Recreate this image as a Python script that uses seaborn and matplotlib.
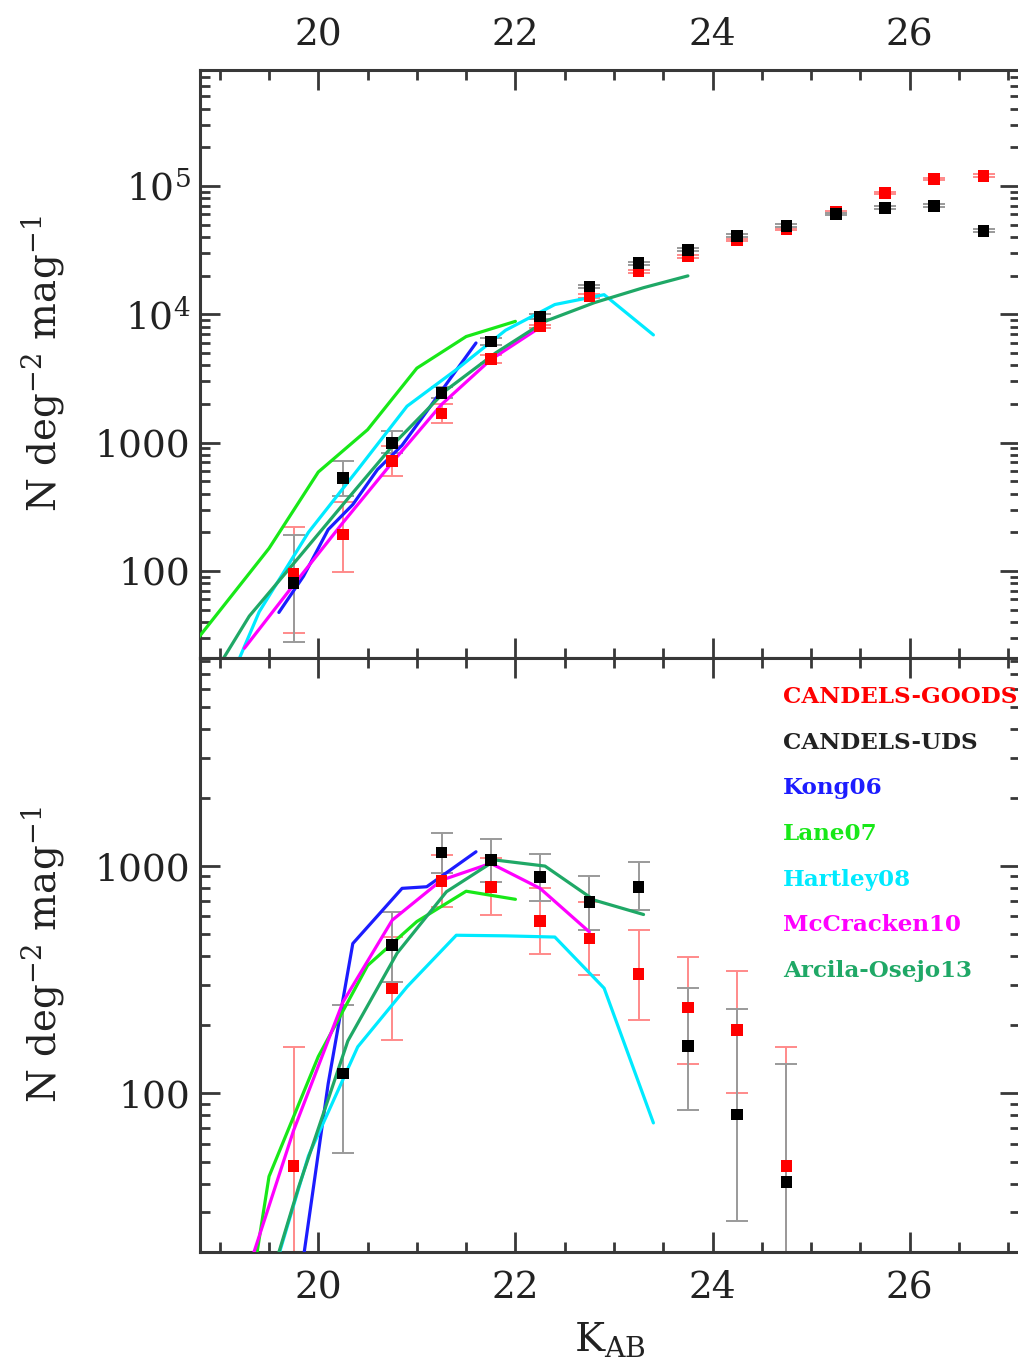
import numpy as np
import pandas as pd
import matplotlib
matplotlib.use("Agg")
import matplotlib.pyplot as plt
import seaborn as sns
from matplotlib.ticker import MultipleLocator, LogLocator, FixedLocator, NullFormatter

# ---------------- data ----------------
# CANDELS data bins
k_top = [19.75, 20.25, 20.75, 21.25, 21.75, 22.25, 22.75, 23.25, 23.75,
         24.25, 24.75, 25.25, 25.75, 26.25, 26.75]
goods_top = [95.5, 192, 716, 1683, 4480, 8030, 13800, 21500, 28200,
             38000, 46300, 62800, 88200, 113000, 120000]
goods_top_lo = [32.7, 98, 547, 1422, 4200, 7750, 13350, 20900, 27500,
                37100, 45300, 61400, 86200, 110500, 117000]
goods_top_hi = [221, 343, 937, 1990, 4780, 8310, 14250, 22100, 28900,
                38900, 47300, 64200, 90200, 115500, 123000]
uds_top = [81, 531, 995, 2440, 6140, 9620, 16400, 25000, 31800,
           40800, 48900, 60500, 67400, 69900, 44700]
uds_top_lo = [27.9, 382, 832, 2220, 5750, 9250, 15900, 24300, 30900,
              39700, 47600, 59000, 65700, 68100, 43400]
uds_top_hi = [192, 716, 1225, 2700, 6550, 10000, 16900, 25700, 32700,
              41900, 50200, 62000, 69100, 71700, 46000]

k_bot = [19.75, 20.25, 20.75, 21.25, 21.75, 22.25, 22.75, 23.25, 23.75, 24.25, 24.75]
goods_bot = [47.9, np.nan, 289, 859, 811, 574, 480, 334, 238, 190, 47.9]
goods_bot_lo = [1, np.nan, 171, 662, 608, 410, 331, 210, 135, 100, 1]
goods_bot_hi = [159, np.nan, 488, 1115, 1080, 804, 696, 523, 398, 346, 159]
uds_bot = [np.nan, 122, 449, 1149, 1063, 897, 696, 811, 161, 80.5, 40.6]
uds_bot_lo = [np.nan, 54.6, 309, 929, 853, 701, 523, 640, 84, 27.5, 1]
uds_bot_hi = [np.nan, 244, 630, 1393, 1313, 1129, 904, 1038, 292, 235, 135]

# literature counts
kong_k = [19.6, 19.85, 20.1, 20.35, 20.6, 20.85, 21.1, 21.35, 21.6]
kong_top = [47.5, 91, 210, 329, 616, 953, 1750, 3240, 5970]
kong_bot = [1.5, 19, 110, 456, 603, 798, 811, 968, 1156]

lane_k_top = [18.5, 19.0, 19.5, 20.0, 20.5, 21.0, 21.5, 22.0]
lane_top = [16, 49, 150, 590, 1260, 3800, 6700, 8800]
lane_k_bot = [19.0, 19.5, 20.0, 20.5, 21.0, 21.5, 22.0]
lane_bot = [1.8, 43, 145, 365, 570, 775, 714]

hart_k = [18.9, 19.4, 19.9, 20.4, 20.9, 21.4, 21.9, 22.4, 22.9, 23.4]
hart_top = [6, 48, 200, 615, 1920, 3700, 7500, 11900, 14200, 6900]
hart_bot = [1, 10, 53, 160, 294, 496, 493, 487, 290, 74]

mcc_k_top = [19.25, 19.75, 20.25, 20.75, 21.25, 21.75, 22.25]
mcc_top = [25, 78, 238, 700, 1980, 4430, 7900]
mcc_k_bot = [19.25, 19.75, 20.25, 20.75, 21.25, 21.75, 22.25, 22.75]
mcc_bot = [14.8, 68.7, 252, 578, 867, 1028, 798, 513]

arc_k_top = [18.8, 19.3, 19.8, 20.3, 20.8, 21.3, 21.8, 22.3, 22.8, 23.3, 23.75]
arc_top = [10.5, 44.5, 127, 366, 1040, 2570, 5000, 8800, 12300, 16100, 19900]
arc_k_bot = [19.3, 19.8, 20.3, 20.8, 21.3, 21.8, 22.3, 22.8, 23.3]
arc_bot = [7.4, 38.6, 170, 414, 771, 1063, 1000, 708, 612]

labels = ["CANDELS-GOODS", "CANDELS-UDS", "Kong06", "Lane07",
          "Hartley08", "McCracken10", "Arcila-Osejo13"]

# ---------------- style ----------------
C_RED = "#ff0000"
C_BLK = "#000000"
C_KONG = "#1c1cff"
C_LANE = "#18e818"
C_HART = "#00eaff"
C_MCC = "#ff00ff"
C_ARC = "#1fa866"
label_colors = [C_RED, "#222222", C_KONG, C_LANE, C_HART, C_MCC, C_ARC]

sns.set_theme(style="ticks")
plt.rcParams["font.family"] = ["DejaVu Serif"]
plt.rcParams["mathtext.fontset"] = "dejavuserif"
SPINE = "#383838"

fig = plt.figure(figsize=(10.18, 13.69), dpi=100)
ax1 = fig.add_axes([0.1965, 0.5194, 0.8055, 0.4295])
ax2 = fig.add_axes([0.1965, 0.0855, 0.8055, 0.4339])

for ax in (ax1, ax2):
    ax.set_yscale("log")


def model(ax, k, n, color):
    df = pd.DataFrame({"K": k, "N": n})
    sns.lineplot(data=df, x="K", y="N", ax=ax, color=color, lw=2.3,
                 sort=False, estimator=None, legend=False, zorder=3)


def points(ax, k, n, lo, hi, color, ecolor):
    k = np.asarray(k, float); n = np.asarray(n, float)
    lo = np.asarray(lo, float); hi = np.asarray(hi, float)
    m = ~np.isnan(n)
    ax.errorbar(k[m], n[m], yerr=[n[m] - lo[m], hi[m] - n[m]], fmt="none",
                ecolor=ecolor, elinewidth=1.4, capsize=8, capthick=1.4, zorder=2)
    df = pd.DataFrame({"K": k[m], "N": n[m]})
    sns.scatterplot(data=df, x="K", y="N", ax=ax, marker="s", s=70,
                    color=color, edgecolor="none", legend=False, zorder=5)


# top panel
points(ax1, k_top, goods_top, goods_top_lo, goods_top_hi, C_RED, "#ff8a8a")
points(ax1, k_top, uds_top, uds_top_lo, uds_top_hi, C_BLK, "#9a9a9a")
model(ax1, kong_k, kong_top, C_KONG)
model(ax1, lane_k_top, lane_top, C_LANE)
model(ax1, hart_k, hart_top, C_HART)
model(ax1, mcc_k_top, mcc_top, C_MCC)
model(ax1, arc_k_top, arc_top, C_ARC)

# bottom panel
points(ax2, k_bot, goods_bot, goods_bot_lo, goods_bot_hi, C_RED, "#ff8a8a")
points(ax2, k_bot, uds_bot, uds_bot_lo, uds_bot_hi, C_BLK, "#9a9a9a")
model(ax2, kong_k, kong_bot, C_KONG)
model(ax2, lane_k_bot, lane_bot, C_LANE)
model(ax2, hart_k, hart_bot, C_HART)
model(ax2, mcc_k_bot, mcc_bot, C_MCC)
model(ax2, arc_k_bot, arc_bot, C_ARC)

# axes formatting
for ax in (ax1, ax2):
    ax.set_xlim(18.8, 27.12)
    ax.xaxis.set_major_locator(MultipleLocator(2))
    ax.xaxis.set_minor_locator(MultipleLocator(0.5))
    ax.yaxis.set_minor_locator(LogLocator(base=10, subs=np.arange(2, 10)))
    ax.yaxis.set_minor_formatter(NullFormatter())
    ax.tick_params(which="both", direction="in", top=True, right=True,
                   color=SPINE, width=2.0, labelsize=27, labelcolor="#222222")
    ax.tick_params(which="major", length=14.5)
    ax.tick_params(which="minor", length=7.2)
    ax.tick_params(axis="y", pad=7)
    for s in ax.spines.values():
        s.set_linewidth(2.2)
        s.set_color(SPINE)
    ax.set_xlabel("")
    ax.set_ylabel(r"N deg$^{-2}$ mag$^{-1}$", fontsize=28, color="#222222")
    ax.yaxis.set_label_coords(-0.163, 0.5)

ax1.set_ylim(21, 8.0e5)
ax1.yaxis.set_major_locator(FixedLocator([100, 1000, 1e4, 1e5]))
ax1.set_yticklabels(["100", "1000", r"$10^4$", r"$10^5$"])
ax1.tick_params(axis="x", labeltop=True, labelbottom=False, pad=12)

ax2.set_ylim(20, 8250)
ax2.yaxis.set_major_locator(FixedLocator([100, 1000]))
ax2.set_yticklabels(["100", "1000"])
ax2.tick_params(axis="x", labeltop=False, labelbottom=True, pad=13)
ax2.set_xlabel(r"K$_{\rm AB}$", fontsize=29, color="#222222", labelpad=10)

# legend as coloured text
for i, (lab, col) in enumerate(zip(labels, label_colors)):
    ax2.text(0.711, 0.934 - i * 0.0768, lab, transform=ax2.transAxes,
             color=col, fontsize=16.6, fontweight="bold", va="center", ha="left",
             family=["DejaVu Serif"])

fig.savefig("out.png", dpi=100)
